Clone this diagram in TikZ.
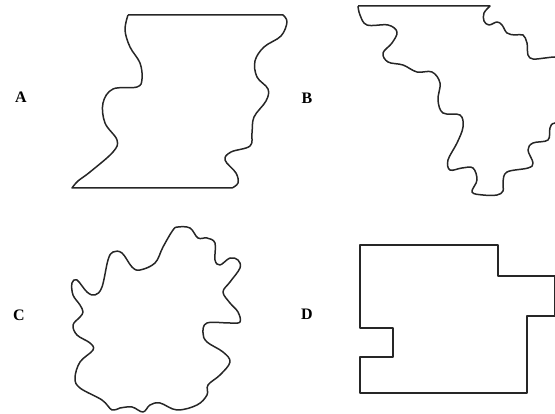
\documentclass[tikz,border=0pt]{standalone}
\usepackage{fontspec}
\setmainfont{Liberation Serif}
\begin{document}
\begin{tikzpicture}[x=1pt,y=-1pt,
  outline/.style={draw=black!85,line width=1.5pt,line join=round},
  tag/.style={font=\fontsize{16}{18}\selectfont\bfseries,inner sep=0pt}]
\clip (0,0) rectangle (555,414);

% labels
\node[tag] (la) at (21,97) {A};
\node[tag] (lb) at (307,98) {B};
\node[tag] (lc) at (19,315) {C};
\node[tag] (ld) at (307,314) {D};

% shape A: straight top and bottom, wavy sides
\draw[outline] (128,15) -- (283,15)
  -- plot[smooth,tension=0.6] coordinates {(283,15) (287,22) (281,36) (264,47) (255,61)
     (257,77) (268,89) (266,101) (254,117) (252,133) (250,146) (231,152) (225,160)
     (236,173) (238,183) (232,188)}
  -- (72,188)
  -- plot[smooth,tension=0.6] coordinates {(72,188) (78,181) (90,172) (113,152) (117,140)
     (105,123) (103,103) (113,89) (137,87) (142,79) (140,63) (130,47) (125,30) (128,15)};

% shape B: straight top, wavy sides running past the right edge
\draw[outline] (358,6) -- (490,6)
  -- plot[smooth,tension=0.6] coordinates {(490,6) (484,13) (484,21) (489,25) (497,22)
     (502,25) (507,33) (515,35) (523,35) (527,43) (528,55) (533,59) (545,58) (555,57) (575,57)}
  -- (575,123)
  -- plot[smooth,tension=0.6] coordinates {(575,123) (555,123) (550,128) (548,140)
     (533,143) (528,150) (533,163) (528,168) (507,172) (503,182) (503,191) (497,195)
     (483,195) (472,192) (477,180) (473,168) (462,168) (450,170) (448,160) (457,143)
     (463,127) (460,115) (443,113) (438,100) (440,83) (432,72) (417,72) (403,65)
     (388,62) (383,53) (392,43) (397,32) (388,25) (367,25) (360,15) (358,6)};

% shape C: closed wavy blob
\draw[outline] plot[smooth cycle,tension=0.6] coordinates {(178,227) (190,228) (198,238)
  (207,238) (215,243) (215,260) (220,265) (230,258) (238,260) (240,268) (230,282)
  (223,292) (230,303) (238,312) (240,322) (230,323) (207,323) (203,333) (207,342)
  (223,352) (230,362) (220,375) (208,385) (207,395) (197,405) (177,410) (160,403)
  (150,405) (143,412) (132,407) (120,408) (112,410) (102,400) (80,388) (75,378)
  (80,362) (93,350) (90,343) (77,335) (73,325) (80,317) (83,312) (80,305) (73,295)
  (72,283) (77,280) (87,292) (95,295) (102,287) (108,260) (113,252) (122,253)
  (132,267) (140,270) (155,263) (163,247) (173,230)};

% shape D: rectilinear outline
\draw[outline] (360,245) -- (498,245) -- (498,276) -- (555,276) -- (555,316)
  -- (527,316) -- (527,393) -- (360,393) -- (360,357) -- (393,357) -- (393,328)
  -- (360,328) -- cycle;
\end{tikzpicture}
\end{document}
